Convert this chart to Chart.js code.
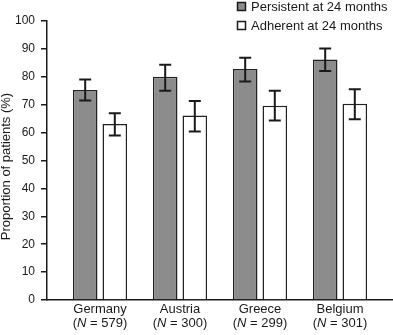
<!DOCTYPE html>
<html>
<head>
<meta charset="utf-8">
<script src="https://cdn.jsdelivr.net/npm/chart.js@4"></script>
<style>
  html, body { margin: 0; padding: 0; background: #fff; }
  #wrap { width: 393px; height: 335px; position: relative; }
</style>
</head>
<body>
<div id="wrap"><canvas id="bar-chart"></canvas></div>
<script>
// values
var countries = ['Germany', 'Austria', 'Greece', 'Belgium'];
var sampleN = [579, 300, 299, 301];
var persistent = [75.3, 80.0, 82.8, 86.2];
var persistentLow = [71.5, 75.0, 78.3, 82.1];
var persistentHigh = [79.0, 84.3, 86.8, 90.1];
var adherent = [63.1, 66.1, 69.6, 70.3];
var adherentLow = [59.0, 60.4, 64.3, 64.8];
var adherentHigh = [66.9, 71.3, 75.0, 75.5];
var yTicks = [0, 10, 20, 30, 40, 50, 60, 70, 80, 90, 100];
var yTitle = 'Proportion of patients (%)';

var FONT = 'Liberation Sans, Arial, Helvetica, sans-serif';
var INK = '#1a1a1a';

function toPoints(vals){
  return vals.map(function(v, i){ return {x: i + 1, y: v}; });
}

// error bars
var errorBars = {
  id: 'errorBars',
  afterDatasetsDraw: function(chart){
    var ctx = chart.ctx;
    var ys = chart.scales.y;
    ctx.save();
    ctx.strokeStyle = INK;
    ctx.lineWidth = 2;
    chart.data.datasets.forEach(function(ds, d){
      var meta = chart.getDatasetMeta(d);
      meta.data.forEach(function(bar, i){
        var lo = ys.getPixelForValue(ds.errLow[i]);
        var hi = ys.getPixelForValue(ds.errHigh[i]);
        ctx.beginPath();
        ctx.moveTo(bar.x, lo); ctx.lineTo(bar.x, hi);
        ctx.moveTo(bar.x - 6, lo); ctx.lineTo(bar.x + 6, lo);
        ctx.moveTo(bar.x - 6, hi); ctx.lineTo(bar.x + 6, hi);
        ctx.stroke();
      });
    });
    ctx.restore();
  }
};

// legend (two rows, top right), y title, category labels with italic N
var labelsAndLegend = {
  id: 'labelsAndLegend',
  afterDraw: function(chart){
    var ctx = chart.ctx;
    var xs = chart.scales.x;
    ctx.save();
    ctx.fillStyle = INK;
    ctx.textBaseline = 'alphabetic';

    chart.data.datasets.forEach(function(ds, d){
      var top = 2.5 + d * 19;
      ctx.fillStyle = ds.backgroundColor;
      ctx.fillRect(237.5, top, 8, 8);
      ctx.strokeStyle = INK;
      ctx.lineWidth = 1.5;
      ctx.strokeRect(237.5, top, 8, 8);
      ctx.fillStyle = INK;
      ctx.font = '13px ' + FONT;
      ctx.textAlign = 'left';
      ctx.fillText(ds.label, 251, 11 + d * 19);
    });

    ctx.save();
    ctx.translate(6, 166.5);
    ctx.rotate(-Math.PI / 2);
    ctx.textAlign = 'center';
    ctx.textBaseline = 'middle';
    ctx.font = '13px ' + FONT;
    ctx.fillText(yTitle, 0, 0);
    ctx.restore();

    countries.forEach(function(name, i){
      var cx = xs.getPixelForValue(i + 1);
      ctx.font = '13px ' + FONT;
      ctx.textAlign = 'center';
      ctx.fillText(name, cx, 313);
      var a = '(', b = 'N', c = ' = ' + sampleN[i] + ')';
      var wa = ctx.measureText(a).width, wc = ctx.measureText(c).width;
      ctx.font = 'italic 13px ' + FONT;
      var wb = ctx.measureText(b).width;
      var x0 = cx - (wa + wb + wc) / 2;
      ctx.textAlign = 'left';
      ctx.font = '13px ' + FONT;
      ctx.fillText(a, x0, 327);
      ctx.font = 'italic 13px ' + FONT;
      ctx.fillText(b, x0 + wa, 327);
      ctx.font = '13px ' + FONT;
      ctx.fillText(c, x0 + wa + wb, 327);
    });
    ctx.restore();
  }
};

var chartdata = {
  datasets: [
    {
      label: 'Persistent at 24 months',
      data: toPoints(persistent),
      errLow: persistentLow,
      errHigh: persistentHigh,
      backgroundColor: '#8c8c8c',
      borderColor: '#222222',
      borderWidth: 1.5
    },
    {
      label: 'Adherent at 24 months',
      data: toPoints(adherent),
      errLow: adherentLow,
      errHigh: adherentHigh,
      backgroundColor: '#ffffff',
      borderColor: '#222222',
      borderWidth: 1.5
    }
  ]
};

new Chart(document.getElementById('bar-chart'), {
  type: 'bar',
  data: chartdata,
  plugins: [errorBars, labelsAndLegend],
  options: {
    responsive: true,
    maintainAspectRatio: false,
    animation: false,
    events: [],
    layout: { padding: { top: 21, right: 0, bottom: 35, left: 0 } },
    datasets: { bar: { categoryPercentage: 0.74, barPercentage: 0.83 } },
    plugins: { legend: { display: false }, tooltip: { enabled: false } },
    scales: {
      x: {
        type: 'linear',
        offset: false,
        min: 0.3375,
        max: 4.6625,
        afterBuildTicks: function(s){
          s.ticks = countries.map(function(c, i){ return {value: i + 1}; });
        },
        ticks: { display: false },
        grid: { display: false, drawTicks: false, offset: false },
        border: { display: true, color: INK, width: 1.5 }
      },
      y: {
        min: 0,
        max: 100,
        afterBuildTicks: function(s){
          s.ticks = yTicks.map(function(v){ return {value: v}; });
        },
        afterFit: function(s){ s.width = 47; },
        ticks: { padding: 6, color: INK, font: { family: FONT, size: 12 } },
        grid: { drawOnChartArea: false, drawTicks: true, tickLength: 6, color: INK, lineWidth: 1.5 },
        border: { display: true, color: INK, width: 1.5 }
      }
    }
  }
});
</script>
</body>
</html>
